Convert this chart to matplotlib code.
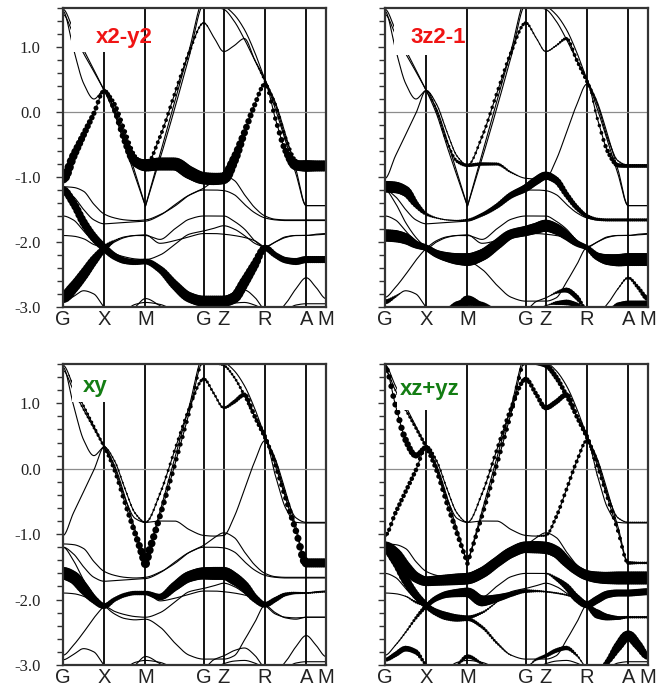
import numpy as np
import matplotlib
matplotlib.use('Agg')
import matplotlib.pyplot as plt
from matplotlib.patches import Rectangle

# ---------------- data ----------------
K_NODES = [0.0, 0.5, 1.0, 1.707, 1.95, 2.45, 2.95, 3.19]
K_LABELS = ['G', 'X', 'M', 'G', 'Z', 'R', 'A', 'M']
Y_TICK_VALUES = [1.0, 0.0, -1.0, -2.0, -3.0]
Y_TICK_LABELS = ['1.0', '0.0', '-1.0', '-2.0', '-3.0']
PANEL_TITLES = ['x2-y2', '3z2-1', 'xy', 'xz+yz']

# k sampling of the band energies (high-symmetry points + intermediate points)
KGRID = [0.0, 0.125, 0.25, 0.375, 0.5, 0.625, 0.75, 0.875, 1.0, 1.177, 1.354, 1.530,
         1.707, 1.829, 1.95, 2.075, 2.2, 2.325, 2.45, 2.575, 2.7, 2.825, 2.95, 3.07, 3.19]

# band energies (eV) on KGRID
U1 = [-1.02, -0.68, -0.35, -0.02, 0.33, 0.02, -0.45, -0.76, -0.82, -0.80, -0.80, -0.93,
      -1.02, -1.03, -1.02, -0.74, -0.32, 0.11, 0.43, -0.10, -0.60, -0.82, -0.83, -0.83, -0.83]
U2 = [1.55, 0.98, 0.44, 0.20, 0.33, 0.12, -0.30, -0.68, -0.82, -0.38, 0.28, 0.92,
      1.37, 1.15, 0.93, 1.02, 1.13, 0.80, 0.47, 0.12, -0.40, -0.75, -0.82, -0.82, -0.82]
U5 = [1.50, 1.20, 0.90, 0.62, 0.33, -0.03, -0.52, -0.99, -1.45, -0.72, 0.05, 0.85,
      1.65, 1.62, 1.58, 1.40, 1.12, 0.80, 0.50, 0.05, -0.45, -0.95, -1.44, -1.44, -1.44]
U6 = [1.58, 1.27, 0.96, 0.65, 0.33, 0.05, -0.42, -0.93, -1.45, -0.65, 0.15, 0.95,
      1.72, 1.68, 1.63, 1.50, 1.27, 0.92, 0.50, 0.15, -0.35, -0.88, -1.44, -1.44, -1.44]
F1 = [-1.15, -1.16, -1.22, -1.42, -1.57, -1.63, -1.66, -1.67, -1.66, -1.58, -1.45, -1.28,
      -1.17, -1.06, -0.98, -1.05, -1.27, -1.47, -1.60, -1.65, -1.66, -1.66, -1.66, -1.66, -1.66]
E1 = [-1.20, -1.30, -1.50, -1.66, -1.72, -1.71, -1.70, -1.69, -1.68, -1.59, -1.43, -1.28,
      -1.20, -1.20, -1.21, -1.27, -1.42, -1.55, -1.63, -1.66, -1.67, -1.67, -1.67, -1.67, -1.67]
BXY = [-1.60, -1.66, -1.83, -2.00, -2.10, -2.00, -1.93, -1.90, -1.90, -1.96, -1.80, -1.65,
       -1.60, -1.60, -1.60, -1.68, -1.80, -1.98, -2.08, -2.00, -1.92, -1.90, -1.90, -1.89, -1.88]
F2 = [-1.90, -1.91, -1.95, -2.04, -2.09, -2.18, -2.23, -2.26, -2.27, -2.20, -2.04, -1.88,
      -1.83, -1.79, -1.75, -1.80, -1.90, -2.02, -2.09, -2.22, -2.27, -2.28, -2.27, -2.27, -2.27]
L1 = [-1.20, -1.40, -1.70, -1.93, -2.09, -2.22, -2.29, -2.31, -2.30, -2.42, -2.66, -2.85,
      -2.91, -2.91, -2.91, -2.86, -2.62, -2.35, -2.09, -2.20, -2.28, -2.30, -2.27, -2.27, -2.27]
L2 = [-2.85, -2.70, -2.50, -2.28, -2.10, -1.98, -1.92, -1.90, -1.89, -2.02, -1.98, -1.92,
      -1.87, -1.87, -1.88, -1.90, -1.93, -1.98, -2.07, -2.00, -1.93, -1.90, -1.90, -1.88, -1.87]
BOT1 = [-2.92, -2.84, -2.75, -2.80, -3.00, -3.10, -3.10, -3.00, -2.87, -2.98, -3.10, -3.10,
        -3.05, -2.92, -2.86, -2.78, -2.74, -2.85, -3.05, -3.10, -2.95, -2.72, -2.55, -2.70, -2.87]
BOT2 = [-3.05, -3.10, -3.10, -3.10, -3.10, -3.10, -3.05, -2.96, -2.93, -2.96, -3.05, -3.10,
        -3.10, -3.05, -2.98, -2.94, -2.93, -2.97, -3.05, -3.10, -3.05, -2.97, -2.95, -2.95, -2.95]

# orbital weights (0..1) per panel on KGRID
W1_U1 = [0.80, 0.65, 0.52, 0.40, 0.30, 0.38, 0.50, 0.75, 0.95, 1.00, 1.00, 1.00,
         0.95, 0.95, 0.90, 0.75, 0.55, 0.40, 0.30, 0.35, 0.50, 0.80, 0.90, 0.85, 0.85]
W1_U2 = [0.03, 0.03, 0.05, 0.08, 0.15, 0.35, 0.35, 0.30, 0.30, 0.30, 0.28, 0.25,
         0.15, 0.05, 0.05, 0.05, 0.05, 0.10, 0.20, 0.25, 0.28, 0.30, 0.30, 0.25, 0.25]
W1_L1 = [0.60, 0.62, 0.65, 0.65, 0.60, 0.55, 0.50, 0.45, 0.45, 0.55, 0.70, 0.80,
         0.85, 0.85, 0.85, 0.85, 0.80, 0.70, 0.50, 0.45, 0.50, 0.55, 0.55, 0.55, 0.55]
W1_L2 = [0.90, 0.85, 0.80, 0.70, 0.50, 0.15, 0.05, 0.02, 0.02, 0.0, 0.0, 0.0,
         0.0, 0.0, 0.0, 0.0, 0.0, 0.0, 0.0, 0.0, 0.0, 0.0, 0.0, 0.0, 0.0]

W2_F1 = [0.90, 0.90, 0.80, 0.50, 0.25, 0.12, 0.10, 0.12, 0.20, 0.30, 0.40, 0.50,
         0.60, 0.65, 0.65, 0.55, 0.45, 0.40, 0.30, 0.25, 0.25, 0.25, 0.25, 0.25, 0.25]
W2_F2 = [0.95, 0.95, 0.85, 0.60, 0.50, 0.60, 0.75, 0.90, 1.00, 0.90, 0.80, 0.75,
         0.80, 0.85, 0.95, 0.85, 0.70, 0.50, 0.40, 0.60, 0.85, 0.95, 1.00, 1.00, 1.00]
W2_U1 = [0.03, 0.03, 0.03, 0.05, 0.10, 0.20, 0.22, 0.25, 0.28, 0.28, 0.25, 0.15,
         0.05, 0.05, 0.05, 0.03, 0.03, 0.05, 0.10, 0.25, 0.35, 0.35, 0.30, 0.30, 0.30]
W2_U2 = [0.05, 0.05, 0.05, 0.08, 0.10, 0.10, 0.10, 0.12, 0.15, 0.25, 0.28, 0.28,
         0.25, 0.10, 0.10, 0.15, 0.25, 0.30, 0.30, 0.15, 0.10, 0.10, 0.10, 0.10, 0.10]
W2_BOT1 = [0.40, 0.20, 0.0, 0.0, 0.0, 0.0, 0.20, 0.40, 0.50, 0.40, 0.20, 0.0,
           0.0, 0.0, 0.0, 0.20, 0.40, 0.40, 0.20, 0.0, 0.0, 0.10, 0.20, 0.30, 0.40]
W2_BOT2 = [0.0, 0.0, 0.0, 0.0, 0.0, 0.0, 0.30, 0.50, 0.55, 0.40, 0.20, 0.0,
           0.0, 0.0, 0.0, 0.30, 0.45, 0.40, 0.0, 0.0, 0.0, 0.40, 0.50, 0.50, 0.50]

W3_BXY = [1.00, 0.95, 0.85, 0.60, 0.45, 0.35, 0.35, 0.35, 0.35, 0.50, 0.70, 0.85,
          0.95, 1.00, 1.00, 0.95, 0.80, 0.60, 0.45, 0.40, 0.30, 0.20, 0.15, 0.15, 0.15]
W3_U5 = [0.05, 0.10, 0.15, 0.20, 0.25, 0.30, 0.35, 0.45, 0.70, 0.45, 0.35, 0.30,
         0.25, 0.20, 0.20, 0.20, 0.25, 0.28, 0.30, 0.32, 0.38, 0.50, 0.70, 0.70, 0.70]
W3_U6 = [0.05, 0.15, 0.20, 0.22, 0.20, 0.10, 0.05, 0.05, 0.05, 0.05, 0.05, 0.05,
         0.05, 0.05, 0.05, 0.05, 0.05, 0.05, 0.05, 0.05, 0.05, 0.05, 0.05, 0.05, 0.05]
W3_U2 = [0.05, 0.05, 0.05, 0.05, 0.10, 0.15, 0.15, 0.15, 0.15, 0.20, 0.25, 0.25,
         0.25, 0.20, 0.20, 0.30, 0.35, 0.35, 0.30, 0.20, 0.10, 0.05, 0.05, 0.05, 0.05]

W4_E1 = [0.90, 0.90, 0.85, 0.80, 0.75, 0.80, 0.85, 0.90, 0.90, 0.85, 0.80, 0.85,
         0.90, 0.95, 0.95, 0.90, 0.80, 0.75, 0.80, 0.90, 0.95, 1.00, 1.00, 1.00, 1.00]
W4_L1 = [0.80, 0.75, 0.70, 0.60, 0.50, 0.35, 0.30, 0.30, 0.30, 0.25, 0.20, 0.10,
         0.05, 0.05, 0.05, 0.05, 0.05, 0.05, 0.10, 0.10, 0.10, 0.10, 0.10, 0.10, 0.10]
W4_L2 = [0.05, 0.10, 0.15, 0.25, 0.35, 0.45, 0.55, 0.65, 0.75, 0.85, 0.60, 0.40,
         0.30, 0.20, 0.15, 0.15, 0.15, 0.20, 0.30, 0.30, 0.30, 0.30, 0.30, 0.30, 0.30]
W4_BXY = [0.05, 0.05, 0.05, 0.05, 0.05, 0.05, 0.05, 0.05, 0.05, 0.05, 0.05, 0.05,
          0.05, 0.05, 0.10, 0.30, 0.50, 0.60, 0.55, 0.60, 0.60, 0.55, 0.55, 0.55, 0.55]
W4_F2 = [0.05, 0.05, 0.10, 0.20, 0.30, 0.40, 0.40, 0.35, 0.30, 0.20, 0.10, 0.05,
         0.05, 0.05, 0.05, 0.05, 0.05, 0.10, 0.30, 0.70, 0.50, 0.30, 0.20, 0.20, 0.20]
W4_U1 = [0.30, 0.35, 0.35, 0.35, 0.30, 0.20, 0.10, 0.05, 0.05, 0.05, 0.05, 0.05,
         0.05, 0.10, 0.20, 0.30, 0.30, 0.30, 0.25, 0.10, 0.05, 0.05, 0.05, 0.05, 0.05]
W4_U2 = [0.40, 0.45, 0.50, 0.45, 0.35, 0.20, 0.15, 0.10, 0.10, 0.20, 0.30, 0.35,
         0.35, 0.35, 0.40, 0.40, 0.40, 0.35, 0.30, 0.20, 0.15, 0.10, 0.10, 0.10, 0.10]
W4_U5 = [0.10, 0.15, 0.20, 0.25, 0.30, 0.35, 0.40, 0.40, 0.35, 0.35, 0.35, 0.35,
         0.30, 0.35, 0.40, 0.40, 0.35, 0.30, 0.30, 0.30, 0.30, 0.30, 0.30, 0.20, 0.20]
W4_BOT1 = [0.30, 0.40, 0.45, 0.40, 0.20, 0.0, 0.0, 0.20, 0.35, 0.20, 0.0, 0.0,
           0.0, 0.20, 0.30, 0.35, 0.35, 0.20, 0.0, 0.20, 0.45, 0.70, 0.80, 0.70, 0.50]

BANDS = {'U1': U1, 'U2': U2, 'U5': U5, 'U6': U6, 'F1': F1, 'E1': E1, 'BXY': BXY,
         'F2': F2, 'L1': L1, 'L2': L2, 'BOT1': BOT1, 'BOT2': BOT2}
PANEL_WEIGHTS = [
    {'U1': W1_U1, 'U2': W1_U2, 'L1': W1_L1, 'L2': W1_L2},
    {'F1': W2_F1, 'F2': W2_F2, 'U1': W2_U1, 'U2': W2_U2, 'BOT1': W2_BOT1, 'BOT2': W2_BOT2},
    {'BXY': W3_BXY, 'U5': W3_U5, 'U6': W3_U6, 'U2': W3_U2},
    {'E1': W4_E1, 'L1': W4_L1, 'L2': W4_L2, 'BXY': W4_BXY, 'F2': W4_F2, 'U1': W4_U1,
     'U2': W4_U2, 'U5': W4_U5, 'BOT1': W4_BOT1},
]
TITLE_COLORS = ['#f01414', '#f01414', '#137d13', '#137d13']


# ---------------- helpers ----------------
def smooth_band(x, y, xq, kink=3.0):
    """Monotone cubic (PCHIP-like) curve through the read points; sharp crossings
    (steep on both sides of an extremum) are kept as kinks."""
    x = np.asarray(x, float)
    y = np.asarray(y, float)
    h = np.diff(x)
    d = np.diff(y) / h
    mL = np.zeros_like(y)
    mR = np.zeros_like(y)
    for i in range(1, len(y) - 1):
        if d[i - 1] * d[i] > 0:
            w1 = 2 * h[i] + h[i - 1]
            w2 = h[i] + 2 * h[i - 1]
            mL[i] = mR[i] = (w1 + w2) / (w1 / d[i - 1] + w2 / d[i])
        elif abs(d[i - 1]) > kink and abs(d[i]) > kink:
            mL[i] = d[i - 1]
            mR[i] = d[i]
    idx = np.clip(np.searchsorted(x, xq) - 1, 0, len(x) - 2)
    t = (xq - x[idx]) / h[idx]
    h00 = 2 * t**3 - 3 * t**2 + 1
    h10 = t**3 - 2 * t**2 + t
    h01 = -2 * t**3 + 3 * t**2
    h11 = t**3 - t**2
    return h00 * y[idx] + h10 * h[idx] * mR[idx] + h01 * y[idx + 1] + h11 * h[idx] * mL[idx + 1]


kline = np.linspace(0, K_NODES[-1], 1600)
kmark = np.arange(0, K_NODES[-1] + 1e-9, 0.025)
DMAX_PX = 13.0

fig = plt.figure(figsize=(6.7, 6.87), dpi=100)
positions = [
    [63 / 670, 1 - 307 / 687, 263 / 670, 299 / 687],
    [385 / 670, 1 - 307 / 687, 263 / 670, 299 / 687],
    [63 / 670, 1 - 665 / 687, 263 / 670, 301 / 687],
    [385 / 670, 1 - 665 / 687, 263 / 670, 301 / 687],
]
# white label boxes (axes fraction): x0, x1, y0
boxes = [(0.030, 0.236, 0.853), (0.034, 0.247, 0.843), (0.034, 0.236, 0.874), (0.046, 0.247, 0.847)]
title_pos = [(0.125, 0.884), (0.095, 0.884), (0.076, 0.908), (0.057, 0.897)]

for p in range(4):
    ax = fig.add_axes(positions[p])
    ax.set_xlim(0, K_NODES[-1])
    ax.set_ylim(-3.0, 1.6)
    for kn in K_NODES[1:-1]:
        ax.axvline(kn, color='black', lw=1.3, zorder=1)
    ax.axhline(0.0, color='0.55', lw=0.9, zorder=1)

    for name, E in BANDS.items():
        ax.plot(kline, smooth_band(KGRID, E, kline), color='black', lw=0.8, zorder=2,
                solid_capstyle='round')
        w = PANEL_WEIGHTS[p].get(name)
        if w is not None:
            wm = np.interp(kmark, KGRID, w)
            em = smooth_band(KGRID, E, kmark)
            sel = wm >= 0.1
            d_pt = wm[sel] * DMAX_PX * 0.72
            ax.scatter(kmark[sel], em[sel], s=d_pt**2, c='black', linewidths=0, zorder=2.1)

    x0, x1, y0 = boxes[p]
    ax.add_patch(Rectangle((x0, y0), x1 - x0, 1.0 - y0, transform=ax.transAxes,
                           facecolor='white', edgecolor='none', zorder=2.3))
    ax.text(title_pos[p][0], title_pos[p][1], PANEL_TITLES[p], transform=ax.transAxes,
            color=TITLE_COLORS[p], fontsize=16, fontweight='bold',
            family=['Liberation Sans', 'DejaVu Sans'], ha='left', va='baseline', zorder=5)

    ax.set_xticks(K_NODES)
    ax.set_xticklabels(K_LABELS, family=['Liberation Sans', 'DejaVu Sans'], fontsize=14.5,
                       color='#222222')
    ax.tick_params(axis='x', length=0, pad=2.5)
    ax.set_yticks(Y_TICK_VALUES)
    ax.set_yticks(np.arange(-3.0, 1.61, 0.2), minor=True)
    if p in (0, 2):
        ax.set_yticklabels(Y_TICK_LABELS, family=['Liberation Serif', 'DejaVu Serif'],
                           fontsize=12, color='#222222')
    else:
        ax.set_yticklabels([])
    ax.tick_params(axis='y', which='major', direction='out', length=5, width=1.0,
                   color='#333333', pad=11)
    ax.tick_params(axis='y', which='minor', direction='out', length=4.5, width=1.0,
                   color='#333333')
    for s in ax.spines.values():
        s.set_linewidth(1.6)
        s.set_color('#333333')

fig.savefig('out.png', dpi=100)
